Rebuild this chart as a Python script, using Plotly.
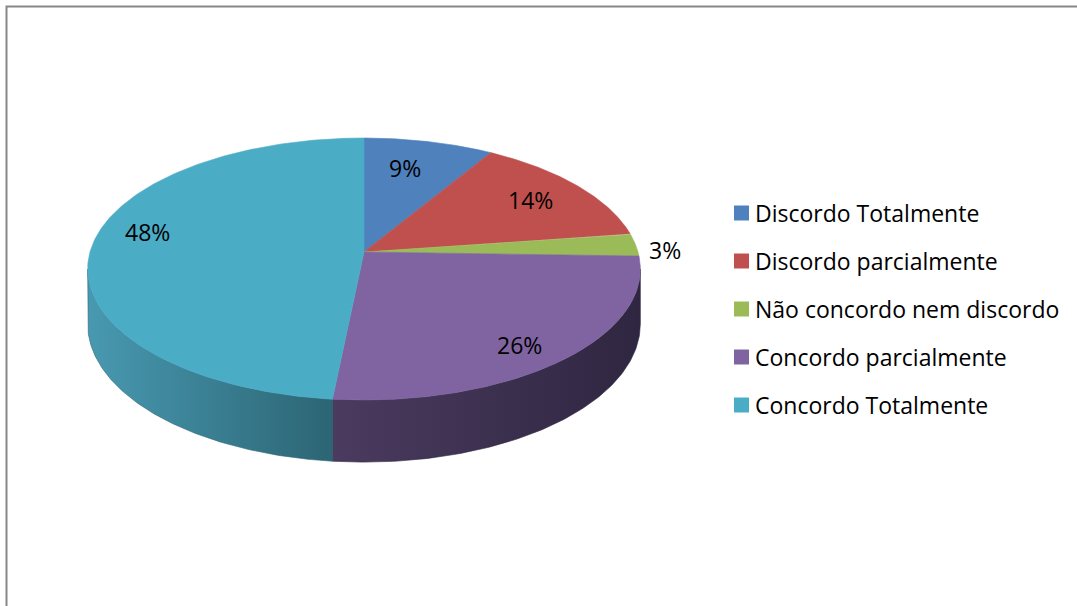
import numpy as np
import plotly.graph_objects as go

# ---- data ----
categories = ["Discordo Totalmente", "Discordo parcialmente", "Não concordo nem discordo",
              "Concordo parcialmente", "Concordo Totalmente"]
values = [8.6, 14.1, 2.8, 26.1, 48.4]          # shares
label_texts = ["9%", "14%", "3%", "26%", "48%"]

# ---- style ----
top_colors = ["#4F81BD", "#C0504D", "#9BBB59", "#8064A2", "#4BACC6"]
side_left = ["#3E6796", "#983F3C", "#7A9546", "#4B3B5F", "#4899B1"]
side_right = ["#27405E", "#5E2725", "#4C5D2B", "#2F2641", "#2C6574"]
label_r = [0.73, 0.77, 1.1, 0.84, 0.82]        # label radius (fraction of pie radius)
label_dth = [-2.5, 0.0, 2.5, 3.0, 8.0]          # label angle tweak, degrees
FONT = "Open Sans"
FS = 23

W, Hpx = 1077, 606
CX, CY = 364, 252          # pie centre on screen
A, B = 274, 128.8          # horizontal / vertical radius
K = 0.13                   # perspective strength
HT = 54                    # thickness

def proj(theta, r=1.0, z=0.0):
    u = r * np.sin(theta)
    v = -r * np.cos(theta)
    w = 1 - K * v
    return CX + A * u / w, CY + (B * v + HT * z) / w

fig = go.Figure()

total = float(sum(values))
bounds = np.concatenate([[0], np.cumsum(values)]) / total * 2 * np.pi
ts = np.arccos(-K)          # silhouette angles
te = 2 * np.pi - ts

# side walls (front only)
for i in range(len(values)):
    a0, a1 = max(bounds[i], ts), min(bounds[i + 1], te)
    if a1 <= a0:
        continue
    th = np.linspace(a0, a1, 120)
    xt, yt = proj(th, 1.0, 0.0)
    xb, yb = proj(th[::-1], 1.0, 1.0)
    xs = np.concatenate([xt, xb, xt[:1]])
    ys = np.concatenate([yt, yb, yt[:1]])
    fig.add_trace(go.Scatter(
        x=xs, y=ys, mode="lines", fill="toself",
        line=dict(width=0.6, color=side_right[i]),
        fillgradient=dict(type="horizontal",
                          colorscale=[[0, side_left[i]], [1, side_right[i]]]),
        hoverinfo="skip", showlegend=False))

# top faces
for i in range(len(values)):
    th = np.linspace(bounds[i], bounds[i + 1], 200)
    xa, ya = proj(th)
    xs = np.concatenate([[CX], xa, [CX]])
    ys = np.concatenate([[CY], ya, [CY]])
    fig.add_trace(go.Scatter(
        x=xs, y=ys, mode="lines", fill="toself",
        fillcolor=top_colors[i], line=dict(width=0.6, color=top_colors[i]),
        hoverinfo="skip", showlegend=False))

# data labels
for i in range(len(values)):
    mid = (bounds[i] + bounds[i + 1]) / 2 + np.radians(label_dth[i])
    lx, ly = proj(mid, label_r[i])
    fig.add_annotation(x=float(lx), y=float(ly), text=label_texts[i], showarrow=False,
                       xanchor="center", yanchor="middle",
                       font=dict(family=FONT, size=FS, color="#000000"))

# legend (manual)
LX, LY0, LDY = 741.5, 213, 48
ly = [LY0 + LDY * i for i in range(len(categories))]
fig.add_trace(go.Scatter(
    x=[LX] * len(categories), y=ly, mode="markers",
    marker=dict(symbol="square", size=15, color=top_colors, line=dict(width=0)),
    hoverinfo="skip", showlegend=False))
for i, c in enumerate(categories):
    fig.add_annotation(x=LX + 11, y=ly[i], text=c, showarrow=False,
                       xanchor="left", yanchor="middle",
                       font=dict(family=FONT, size=FS, color="#000000"))

# chart border
fig.add_shape(type="rect", x0=6.5, y0=6.5, x1=W + 20, y1=Hpx + 20,
              line=dict(color="#878787", width=2), layer="above")

fig.update_layout(
    width=W, height=Hpx, margin=dict(l=0, r=0, t=0, b=0),
    paper_bgcolor="white", plot_bgcolor="white",
    xaxis=dict(range=[0, W], visible=False, fixedrange=True),
    yaxis=dict(range=[Hpx, 0], visible=False, fixedrange=True),
    hovermode=False, showlegend=False,
)

fig.write_html("out.html")
